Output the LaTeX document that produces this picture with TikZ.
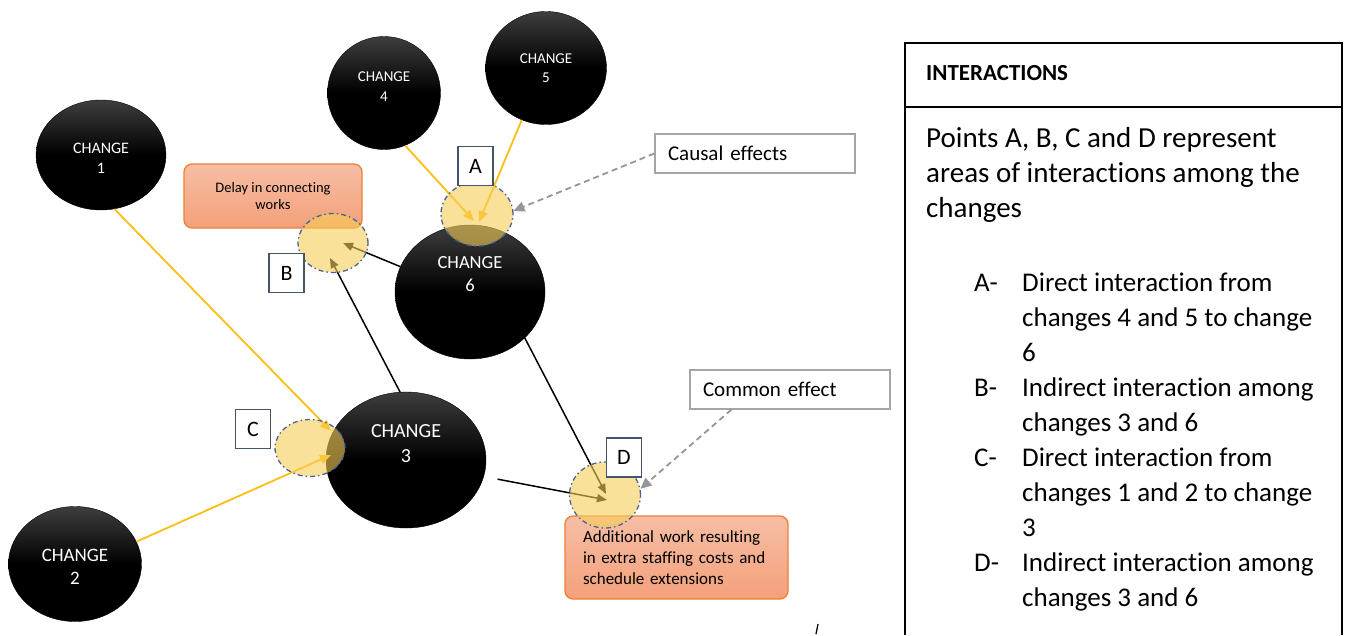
\documentclass[tikz,border=0pt]{standalone}
\usepackage{fontspec}
\setmainfont{Carlito}[Ligatures={NoCommon,NoRare}]
\usetikzlibrary{shapes.geometric,arrows.meta}
\pgfdeclarelayer{base}
\pgfdeclarelayer{mid}
\pgfsetlayers{base,mid,main}

\definecolor{chtop}{RGB}{62,62,62}
\definecolor{zonefill}{RGB}{246,205,85}
\definecolor{zoneline}{RGB}{72,100,150}
\definecolor{ylw}{RGB}{252,190,20}
\definecolor{boxblue}{RGB}{68,84,106}
\definecolor{notegray}{RGB}{165,165,165}
\definecolor{dashgray}{RGB}{150,150,150}
\definecolor{effline}{RGB}{238,128,55}
\definecolor{efftop}{RGB}{246,190,165}
\definecolor{effbot}{RGB}{244,160,122}

\newcommand{\fs}[2]{\fontsize{#1}{#2}\selectfont}

\begin{document}
\begin{tikzpicture}[x=1pt,y=-1pt,
  change/.style={ellipse, inner sep=0pt, draw=black, top color=chtop,
    bottom color=black, middle color=black},
  chtext/.style={text=white, align=center, inner sep=0pt},
  zone/.style={ellipse, inner sep=0pt, fill=zonefill, fill opacity=0.6,
    draw=zoneline, line width=1.3pt, dash pattern=on 5pt off 3pt on 1.5pt off 3pt},
  letterbox/.style={draw=boxblue, fill=white, line width=1.3pt,
    minimum width=35pt, minimum height=39pt, inner sep=0pt, font=\fs{22}{26}},
  notebox/.style={draw=notegray, fill=white, line width=1.3pt,
    minimum height=39pt, text width=174pt, inner xsep=13pt, align=left,
    font=\fs{21}{25}},
  effectbox/.style={rounded corners=8pt, draw=effline, line width=1.3pt,
    top color=efftop, bottom color=effbot},
  yarrow/.style={draw=ylw, line width=1.8pt, -{Triangle[length=11pt,width=9pt]}},
  barrow/.style={draw=black, line width=1.5pt, -{Triangle[length=10pt,width=8pt]}},
  garrow/.style={draw=dashgray, line width=1.8pt, dash pattern=on 6pt off 4pt,
    -{Triangle[length=11pt,width=10pt]}},
  ]
\useasboundingbox (0,0) rectangle (1348,635);

% the six changes
\begin{pgfonlayer}{base}
\node[change, minimum width=130pt, minimum height=110pt] (c1) at (101,155) {};
\node[change, minimum width=113pt, minimum height=113pt] (c4) at (384,93) {};
\node[change, minimum width=121pt, minimum height=113pt] (c5) at (546,68) {};
\node[change, minimum width=150pt, minimum height=134pt] (c6) at (470,292) {};
\node[change, minimum width=160pt, minimum height=136pt] (c3) at (406,460) {};
\node[change, minimum width=133pt, minimum height=115pt] (c2) at (75,564) {};

\node[chtext, font=\fs{16}{20}] (t1) at ([yshift=-3pt]c1.center) {CHANGE\\1};
\node[chtext, font=\fs{15}{20}] (t4) at ([yshift=6pt]c4.center) {CHANGE\\4};
\node[chtext, font=\fs{15}{19}] (t5) at (c5.center) {CHANGE\\5};
\node[chtext, font=\fs{18.5}{23}] (t6) at ([yshift=18pt]c6.center) {CHANGE\\6};
\node[chtext, font=\fs{20}{25}] (t3) at ([yshift=16pt]c3.center) {CHANGE\\3};
\node[chtext, font=\fs{19}{23}] (t2) at ([yshift=-3pt]c2.center) {CHANGE\\2};

% consequences
\node[effectbox, minimum width=178pt, minimum height=64pt, align=center,
  font=\fs{14.5}{17}] (delay) at (273,196) {Delay in connecting\\works};
\node[effectbox, minimum width=223pt, minimum height=83pt, text width=187pt,
  inner xsep=18pt, align=left, font=\fs{17}{21}] (extra) at (676.5,557.5)
  {\raisebox{-2pt}{\parbox{187pt}{Additional work resulting\\in extra staffing costs and\\schedule extensions}}};
\end{pgfonlayer}

% areas of interaction
\node[zone, minimum width=72pt, minimum height=64pt] (eA) at (477,214) {};
\node[zone, minimum width=70pt, minimum height=59pt] (eB) at (333,243) {};
\node[zone, minimum width=70pt, minimum height=57pt] (eC) at (310,448) {};
\node[zone, minimum width=71pt, minimum height=66pt] (eD) at (605,495) {};

\node[letterbox] (lA) at (475.5,166) {A};
\node[letterbox] (lB) at (286.5,273) {B};
\node[letterbox] (lC) at (253,429) {C};
\node[letterbox] (lD) at (624,457.5) {D};

\node[notebox] (causal) at (755,153.5) {Causal effects};
\node[notebox] (common) at (790,389.5) {Common effect};

% arrow tips inside the areas
\coordinate (a4) at (474,221);
\coordinate (a5) at (479,222);
\coordinate (b6) at (343,243);
\coordinate (b3) at (330,258);
\coordinate (k1) at (331,431);
\coordinate (k2) at (331,455);
\coordinate (d6) at (606,494);
\coordinate (d3) at (607,500);

\begin{pgfonlayer}{mid}
\draw[yarrow] (c4.-68) -- (a4);
\draw[yarrow] (c5.-115) -- (a5);
\draw[yarrow] (c1.-76) -- (k1);
\draw[yarrow] (c2.20) -- (k2);
\draw[barrow] (c6.160) -- (b6);
\draw[barrow] (c3.95) -- (b3);
\draw[barrow] (c6.-40) -- (d6);
\draw[barrow, shorten <=14pt] (c3.-12) -- (d3);
\end{pgfonlayer}
\draw[garrow] (causal.west) -- (eA.5);
\draw[garrow] ([xshift=42pt]common.south west) -- (eD.10);

% interactions panel
\draw[line width=2pt] (905,635) -- (905,43) -- (1342,43) -- (1342,635);
\draw[line width=2pt] (905,107) -- (1342,107);
\node[anchor=base west, inner sep=0pt, font=\bfseries\fs{23}{28}] (head) at (926,80) {INTERACTIONS};
\node[anchor=north west, inner sep=0pt, font=\fs{29}{35}] (intro) at (926,122.5)
  {\begin{tabular}{@{}l@{}}
   Points A, B, C and D represent\\
   areas of interactions among the\\
   changes
   \end{tabular}};
\node[anchor=north west, inner sep=0pt, font=\fs{27}{35}] (items) at (974,266.5)
  {\begin{tabular}{@{}p{48pt}@{}l@{}}
   A- & Direct interaction from\\
      & changes 4 and 5 to change\\
      & 6\\
   B- & Indirect interaction among\\
      & changes 3 and 6\\
   C- & Direct interaction from\\
      & changes 1 and 2 to change\\
      & 3\\
   D- & Indirect interaction among\\
      & changes 3 and 6
   \end{tabular}};

% small stray stroke below the panel
\draw[line width=1.3pt] (818,624) -- (816,634);
\end{tikzpicture}
\end{document}
